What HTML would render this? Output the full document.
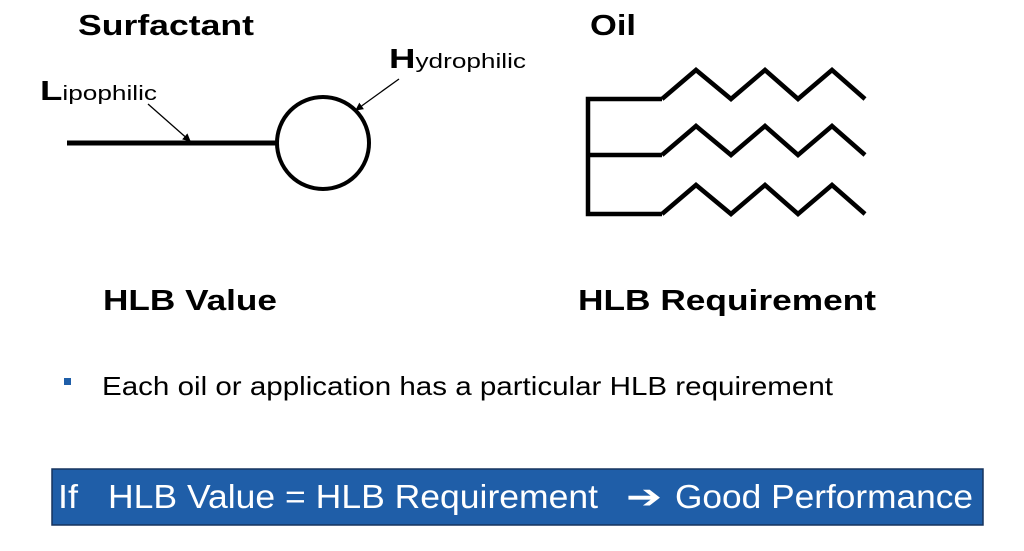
<!DOCTYPE html>
<html><head><meta charset="utf-8"><style>
html,body{margin:0;padding:0;background:#fff}
svg{display:block}
text{font-family:"Liberation Sans",Arial,sans-serif}
</style></head><body>
<svg width="1024" height="551" viewBox="0 0 1024 551" xmlns="http://www.w3.org/2000/svg">
<defs><marker id="ah" markerWidth="8" markerHeight="8" refX="7" refY="4" orient="auto" markerUnits="userSpaceOnUse"><path d="M0,0 L8,4 L0,8 z" fill="#000"/></marker></defs>
<text x="78" y="35" font-size="29" font-weight="bold" textLength="176" lengthAdjust="spacingAndGlyphs">Surfactant</text>
<text x="590" y="35" font-size="29" font-weight="bold" textLength="46" lengthAdjust="spacingAndGlyphs">Oil</text>
<text x="40" y="100" font-size="20" textLength="117" lengthAdjust="spacingAndGlyphs"><tspan font-size="28" font-weight="bold">L</tspan>ipophilic</text>
<text x="389" y="68" font-size="20" textLength="137" lengthAdjust="spacingAndGlyphs"><tspan font-size="28" font-weight="bold">H</tspan>ydrophilic</text>
<line x1="67" y1="143" x2="276" y2="143" stroke="#000" stroke-width="5"/>
<circle cx="323" cy="143" r="46" fill="none" stroke="#000" stroke-width="4"/>
<line x1="148" y1="104" x2="190" y2="141" stroke="#000" stroke-width="1.3" marker-end="url(#ah)"/>
<line x1="399" y1="79" x2="356" y2="110" stroke="#000" stroke-width="1.3" marker-end="url(#ah)"/>
<g fill="none" stroke="#000" stroke-width="4.5" stroke-linejoin="miter">
<polyline points="662,99 588,99 588,214 662,214"/>
<line x1="588" y1="155" x2="662" y2="155"/>
<polyline points="662,99 696,70 731,99 765,70 798,99 832,70 865,99"/>
<polyline points="662,155 696,126 731,155 765,126 798,155 832,126 865,155"/>
<polyline points="662,214 696,185 731,214 765,185 798,214 832,185 865,214"/>
</g>
<text x="103" y="310" font-size="29" font-weight="bold" textLength="174" lengthAdjust="spacingAndGlyphs">HLB Value</text>
<text x="578" y="310" font-size="29" font-weight="bold" textLength="298" lengthAdjust="spacingAndGlyphs">HLB Requirement</text>
<rect x="64" y="378" width="7" height="7" fill="#1f5ea8"/>
<text x="102" y="395" font-size="26" textLength="731" lengthAdjust="spacingAndGlyphs">Each oil or application has a particular HLB requirement</text>
<rect x="52" y="469" width="931" height="56" fill="#1f5ea8" stroke="#17345e" stroke-width="1.5"/>
<g fill="#fff" font-size="33">
<text x="58" y="508" textLength="20" lengthAdjust="spacingAndGlyphs">If</text>
<text x="108" y="508" textLength="490" lengthAdjust="spacingAndGlyphs">HLB Value = HLB Requirement</text>
<text x="626" y="508" textLength="36" lengthAdjust="spacingAndGlyphs">➔</text>
<text x="675" y="508" textLength="298" lengthAdjust="spacingAndGlyphs">Good Performance</text>
</g>
</svg>
</body></html>
